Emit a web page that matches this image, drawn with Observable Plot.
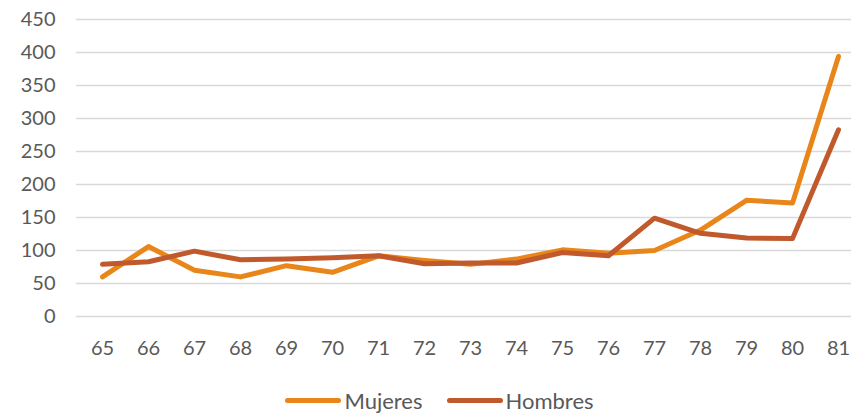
<!DOCTYPE html>
<html>
<head>
<meta charset="utf-8">
<script src="https://cdn.jsdelivr.net/npm/d3@7"></script>
<script src="https://cdn.jsdelivr.net/npm/@observablehq/plot@0.6"></script>
<style>
  body { margin: 0; background: #fff; font-family: Lato, "Open Sans", sans-serif; }
  #chart { width: 851px; }
  .legend { display: flex; justify-content: center; align-items: center; gap: 24px; height: 38px; margin-top: 6px; font-size: 22px; color: #595959; margin-left: 28px; }
  .item { display: flex; align-items: center; gap: 3px; }
  .sw { width: 56px; height: 5px; border-radius: 3px; }
</style>
</head>
<body>
<div id="chart"></div>
<script>
const ages = ["65","66","67","68","69","70","71","72","73","74","75","76","77","78","79","80","81"];
const mujeres = [60, 106, 70, 60, 77, 67, 92, 85, 79, 87, 101, 96, 100, 131, 176, 172, 394];
const hombres = [79, 83, 99, 86, 87, 89, 92, 80, 81, 81, 97, 92, 149, 126, 119, 118, 283];
const yTicks = [0, 50, 100, 150, 200, 250, 300, 350, 400, 450];
const seriesNames = ["Mujeres", "Hombres"];
const seriesColors = ["#E8861A", "#C05A2C"];

const data = [];
ages.forEach((a, i) => {
  data.push({age: a, value: mujeres[i], serie: "Mujeres"});
  data.push({age: a, value: hombres[i], serie: "Hombres"});
});

const chart = Plot.plot({
  width: 851,
  height: 375,
  marginLeft: 76,
  marginRight: 0,
  marginTop: 19,
  marginBottom: 59,
  style: {fontFamily: "Lato, 'Open Sans', sans-serif", fontSize: "20px", color: "#595959", background: "#fff"},
  x: {type: "point", domain: ages, insetLeft: 23, insetRight: 11, padding: 0, label: null},
  y: {domain: [0, 450], label: null},
  color: {domain: seriesNames, range: seriesColors},
  marks: [
    Plot.gridY(yTicks, {stroke: "#d9d9d9", strokeOpacity: 1, strokeWidth: 1.5}),
    Plot.axisY(yTicks, {tickSize: 0, tickPadding: 21, label: null, fill: "#595959"}),
    Plot.axisX(ages, {tickSize: 0, tickPadding: 24, label: null, fill: "#595959"}),
    Plot.line(data, {x: "age", y: "value", z: "serie", stroke: "serie", strokeWidth: 5, strokeLinecap: "round", strokeLinejoin: "round"})
  ]
});
document.getElementById("chart").appendChild(chart);

const legend = document.createElement("div");
legend.className = "legend";
seriesNames.forEach((n, i) => {
  const item = document.createElement("div");
  item.className = "item";
  const sw = document.createElement("span");
  sw.className = "sw";
  sw.style.background = seriesColors[i];
  const t = document.createElement("span");
  t.textContent = n;
  item.appendChild(sw);
  item.appendChild(t);
  legend.appendChild(item);
});
document.getElementById("chart").appendChild(legend);
</script>
</body>
</html>
